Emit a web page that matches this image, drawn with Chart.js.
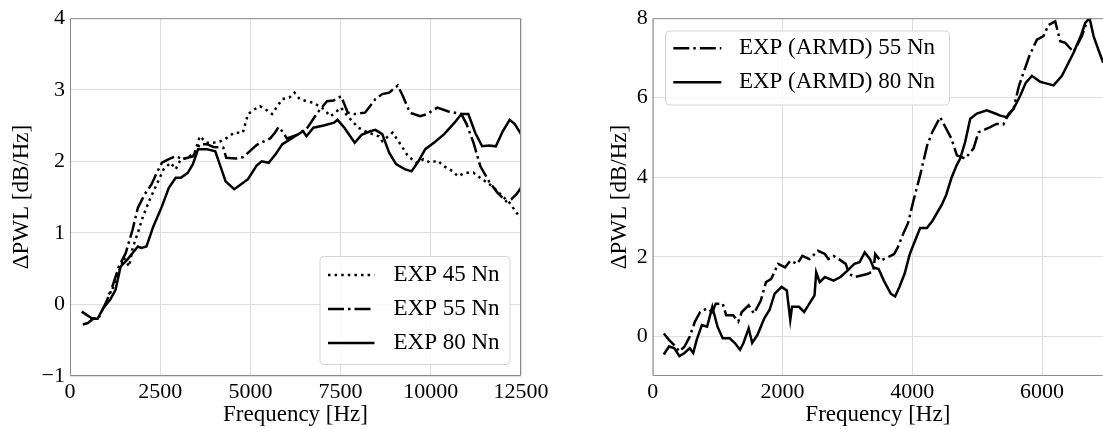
<!DOCTYPE html>
<html>
<head>
<meta charset="utf-8">
<script src="https://cdn.jsdelivr.net/npm/chart.js@4.4.1/dist/chart.umd.min.js"></script>
<style>
  body { margin: 0; background: #fff; width: 1103px; height: 429px; overflow: hidden; position: relative; }
  #left { position: absolute; left: 0; top: 0; }
  #right { position: absolute; left: 560px; top: 0; }
</style>
</head>
<body>
<canvas id="left" width="560" height="429"></canvas>
<canvas id="right" width="543" height="429"></canvas>
<script>
// ---- left panel: EXP 45 / 55 / 80 Nn ----
const exp45Freq = [1070,1213,1307,1498,1641,1737,1880,2023,2214,2405,2596,2787,2930,3073,3264,3454,3597,3788,3979,4170,
  4361,4551,4790,4933,5124,5267,5410,5601,5744,5887,6078,6221,6364,6555,6746,7032,7223,7514,7700,7987,
  8273,8560,8655,8941,9132,9370,9609,9800,9990,10181,10372,10610,10754,10945,11183,11422,11708,11994,12185,12376,12500];
const exp45Val = [0.14,0.25,0.39,0.65,0.53,0.79,1.0,1.23,1.47,1.68,1.89,1.98,1.89,2.03,2.05,2.12,2.35,2.26,2.26,2.28,
  2.33,2.4,2.4,2.66,2.73,2.77,2.73,2.66,2.77,2.87,2.89,2.96,2.87,2.84,2.82,2.73,2.63,2.75,2.63,2.47,
  2.4,2.35,2.28,2.4,2.26,2.07,1.98,2.03,1.98,2.01,1.93,1.86,1.79,1.84,1.84,1.75,1.65,1.51,1.42,1.28,1.21];

const exp55Freq = [324,592,783,925,1116,1355,1546,1737,1880,2071,2262,2405,2548,2739,2930,3120,3406,3597,3788,3977,
  4250,4330,4600,4809,5000,5180,5549,5680,5780,5880,6013,6290,6568,6845,7123,7300,7514,7700,7891,8177,
  8464,8655,8846,9084,9228,9418,9704,9895,10181,10467,10849,10992,11183,11374,11613,11851,12090,12233,12376,12500];
const exp55Val = [-0.1,-0.19,-0.2,-0.05,0.16,0.53,0.72,1.05,1.35,1.54,1.68,1.84,1.98,2.03,2.07,2.03,2.07,2.24,2.24,2.2,
  2.19,2.05,2.04,2.06,2.15,2.23,2.32,2.4,2.48,2.42,2.32,2.37,2.46,2.67,2.84,2.85,2.91,2.68,2.66,2.68,
  2.87,2.94,2.96,3.06,2.91,2.68,2.63,2.66,2.75,2.7,2.66,2.52,2.26,1.93,1.72,1.56,1.44,1.47,1.54,1.63];

const exp80Freq = [353,496,640,763,925,1116,1260,1403,1594,1737,1880,1975,2119,2310,2548,2739,2930,3073,3264,3406,
  3550,3788,4027,4170,4313,4551,4742,4933,5172,5315,5506,5697,5887,6078,6269,6460,6555,6746,7032,7319,
  7414,7605,7891,8082,8321,8464,8655,8846,9037,9275,9466,9657,9847,10086,10372,10658,10849,11040,11231,11422,
  11613,11803,11994,12185,12328,12500];
const exp80Val = [-0.28,-0.26,-0.2,-0.2,-0.05,0.07,0.2,0.53,0.63,0.72,0.81,0.79,0.81,1.09,1.37,1.63,1.77,1.77,1.84,1.96,
  2.17,2.17,2.14,1.93,1.72,1.61,1.68,1.75,1.94,2.0,1.98,2.1,2.24,2.3,2.36,2.42,2.35,2.47,2.5,2.54,
  2.58,2.47,2.26,2.37,2.42,2.44,2.38,2.12,1.96,1.89,1.86,2.0,2.17,2.26,2.38,2.54,2.66,2.66,2.4,2.21,
  2.22,2.21,2.42,2.58,2.52,2.38];

// ---- right panel: EXP (ARMD) 55 / 80 Nn ----
const armd55Freq = [171,251,331,411,491,571,651,732,838,919,972,1079,1132,1239,1319,1373,1479,1560,1666,1746,
  1826,1933,2040,2120,2227,2307,2414,2547,2654,2708,2788,2868,2975,3028,3108,3215,3322,3402,3429,3509,
  3616,3722,3776,3856,3936,4016,4123,4230,4310,4430,4524,4604,4688,4816,4944,5021,5201,5298,5406,5484,
  5561,5645,5715,5805,5921,6023,6099,6204,6281,6358,6486,6615,6702];
const armd55Val = [0.07,-0.09,-0.22,-0.38,-0.26,-0.01,0.37,0.61,0.7,0.61,0.82,0.82,0.53,0.53,0.37,0.61,0.78,0.57,0.9,1.36,
  1.44,1.82,1.73,1.9,1.82,2.02,1.94,2.15,2.07,1.94,2.02,1.94,1.82,1.57,1.49,1.53,1.57,1.65,2.07,1.9,
  1.98,2.07,2.23,2.56,2.85,3.39,4.06,4.8,5.14,5.51,5.22,4.97,4.55,4.47,4.72,5.13,5.26,5.34,5.33,5.59,
  5.72,6.3,6.63,7.05,7.46,7.55,7.83,7.92,7.42,7.38,7.15,7.55,7.96];

const armd80Freq = [171,251,331,411,491,571,625,678,758,838,919,999,1079,1186,1266,1346,1399,1479,1533,1613,
  1720,1800,1880,1987,2067,2120,2147,2254,2334,2414,2494,2520,2574,2654,2788,2894,3001,3108,3188,3268,
  3349,3402,3482,3562,3669,3736,3802,3882,3963,4043,4122,4225,4310,4456,4524,4604,4684,4739,4816,4894,
  4996,5150,5298,5356,5459,5561,5664,5751,5844,5972,6019,6178,6307,6486,6607,6666,6733,6795,6870,6944];
const armd80Val = [-0.46,-0.26,-0.3,-0.5,-0.42,-0.3,-0.42,-0.09,0.28,0.24,0.74,0.24,-0.05,-0.05,-0.17,-0.34,-0.17,0.2,-0.17,0.03,
  0.45,0.66,1.07,1.24,1.15,0.41,0.74,0.74,0.61,0.82,1.03,1.61,1.36,1.49,1.4,1.49,1.65,1.82,1.86,2.11,
  1.94,1.73,1.69,1.4,1.07,1.0,1.24,1.57,2.07,2.4,2.72,2.72,2.9,3.31,3.56,3.98,4.3,4.47,4.89,5.47,
  5.6,5.68,5.59,5.55,5.51,5.72,6.05,6.38,6.55,6.4,6.38,6.31,6.55,7.13,7.59,7.88,8.0,7.55,7.2,6.88];

// axis ranges and tick labels
const leftXRange = [0, 12500];
const leftXTicks = [0, 2500, 5000, 7500, 10000, 12500];
const leftYRange = [-1, 4];
const leftYTicks = [-1, 0, 1, 2, 3, 4];
const rightXRange = [0, 6940];
const rightXTicks = [0, 2000, 4000, 6000];
const rightYRange = [-1, 8];
const rightYTicks = [0, 2, 4, 6, 8];

const SERIF = '"Liberation Serif", "Times New Roman", "DejaVu Serif", serif';
const DOTTED = [2.5, 4.1];
const DASHDOT = [16, 4, 2.5, 4];

function points(xs, ys) {
    return xs.map((x, i) => ({ x: x, y: ys[i] }));
}

function series(label, xs, ys, dash) {
    return {
        label: label,
        data: points(xs, ys),
        borderColor: '#000',
        borderWidth: 2.5,
        borderDash: dash,
        pointRadius: 0,
        fill: false,
        tension: 0
    };
}

// axes frame (all four spines, right one optional)
const frame = {
    id: 'frame',
    afterDatasetsDraw(chart, args, opts) {
        const { ctx, chartArea: a } = chart;
        ctx.save();
        ctx.strokeStyle = '#8a8a8a';
        ctx.lineWidth = 1;
        ctx.beginPath();
        ctx.moveTo(a.left + 0.5, a.top + 0.5);
        ctx.lineTo(a.left + 0.5, a.bottom - 0.5);
        ctx.lineTo(a.right - 0.5, a.bottom - 0.5);
        if (opts.rightSide) {
            ctx.lineTo(a.right - 0.5, a.top + 0.5);
        } else {
            ctx.moveTo(a.right, a.top + 0.5);
        }
        ctx.lineTo(a.left + 0.5, a.top + 0.5);
        ctx.stroke();
        ctx.restore();
    }
};

// matplotlib-like legend box inside the axes
const legendBox = {
    id: 'legendBox',
    afterDraw(chart, args, opts) {
        const { ctx, chartArea: a } = chart;
        const x0 = opts.right != null ? a.right - opts.right - opts.width : a.left + opts.left;
        const y0 = opts.bottom != null ? a.bottom - opts.bottom - opts.height : a.top + opts.top;
        ctx.save();
        ctx.beginPath();
        ctx.roundRect(x0 + 0.5, y0 + 0.5, opts.width, opts.height, 4);
        ctx.fillStyle = 'rgba(255,255,255,0.8)';
        ctx.fill();
        ctx.strokeStyle = '#d5d5d5';
        ctx.lineWidth = 1;
        ctx.stroke();
        ctx.font = '23px ' + SERIF;
        ctx.fillStyle = '#000';
        ctx.textBaseline = 'middle';
        chart.data.datasets.forEach((ds, i) => {
            const y = y0 + opts.firstRow + i * opts.rowGap;
            ctx.strokeStyle = '#000';
            ctx.lineWidth = ds.borderWidth;
            ctx.setLineDash(ds.borderDash || []);
            ctx.beginPath();
            ctx.moveTo(x0 + opts.padX, y);
            ctx.lineTo(x0 + opts.padX + opts.sample, y);
            ctx.stroke();
            ctx.setLineDash([]);
            ctx.fillText(ds.label, x0 + opts.padX + opts.sample + opts.gap, y);
        });
        ctx.restore();
    }
};

function axis(range, tickValues, title, size, titlePad, tickPad) {
    return {
        type: 'linear',
        min: range[0],
        max: range[1],
        grid: { color: '#dedede', lineWidth: 1, drawTicks: false },
        border: { display: false },
        afterBuildTicks: s => { s.ticks = tickValues.map(v => ({ value: v })); },
        ticks: {
            autoSkip: false,
            maxRotation: 0,
            padding: tickPad,
            color: '#000',
            font: { family: SERIF, size: 22 },
            callback: v => String(v).replace('-', '\u2212')
        },
        title: {
            display: true,
            text: title,
            color: '#000',
            font: { family: SERIF, size: 23 },
            padding: titlePad
        },
        afterFit: s => {
            if (s.isHorizontal()) s.height = size;
            else s.width = size;
        }
    };
}

function makeChart(id, datasets, xr, xt, yr, yt, yWidth, yTitlePad, pad, frameOpts, legendOpts) {
    return new Chart(document.getElementById(id), {
        type: 'line',
        data: { datasets: datasets },
        options: {
            responsive: false,
            animation: false,
            devicePixelRatio: 1,
            layout: { padding: pad },
            scales: {
                x: axis(xr, xt, 'Frequency [Hz]', 53, { top: 0, bottom: 0 }, 3),
                y: axis(yr, yt, '\u0394PWL [dB/Hz]', yWidth, yTitlePad, 5)
            },
            plugins: {
                legend: { display: false },
                tooltip: { enabled: false },
                frame: frameOpts,
                legendBox: legendOpts
            }
        },
        plugins: [frame, legendBox]
    });
}

makeChart('left', [
    series('EXP 45 Nn', exp45Freq, exp45Val, DOTTED),
    series('EXP 55 Nn', exp55Freq, exp55Val, DASHDOT),
    series('EXP 80 Nn', exp80Freq, exp80Val, [])
], leftXRange, leftXTicks, leftYRange, leftYTicks, 70, 8, { top: 18, right: 39, left: 0, bottom: 0 },
    { rightSide: true },
    { right: 11.5, bottom: 12, width: 190, height: 108, firstRow: 19, rowGap: 34, padX: 8.5, sample: 46.5, gap: 19 });

makeChart('right', [
    series('EXP (ARMD) 55 Nn', armd55Freq, armd55Val, DASHDOT),
    series('EXP (ARMD) 80 Nn', armd80Freq, armd80Val, [])
], rightXRange, rightXTicks, rightYRange, rightYTicks, 92.7, 46, { top: 15, right: 0, left: 0, bottom: 0 },
    { rightSide: false },
    { left: 12.3, top: 12.3, width: 284, height: 74, firstRow: 17.7, rowGap: 34, padX: 8.3, sample: 48, gap: 17.6 });
</script>
</body>
</html>
